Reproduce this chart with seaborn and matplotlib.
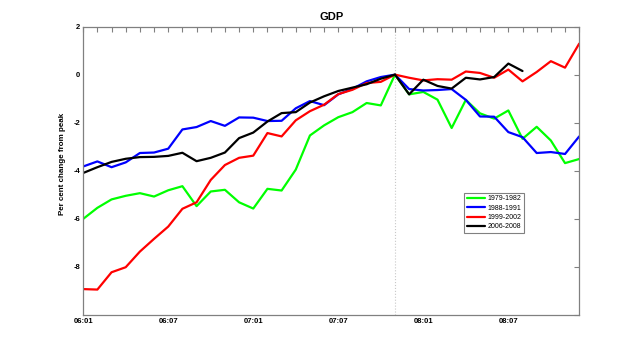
#!/usr/bin/env python3
# -*- coding: utf-8 -*-

import matplotlib as mpl
mpl.use('Agg')
import matplotlib.pyplot as plt
from matplotlib.ticker import MultipleLocator
import seaborn as sns
import pandas as pd

# months since 06:01, monthly GDP, per cent change from peak (peak at 07:11)
months = list(range(36))
tick_labels = ['06:01', '06:07', '07:01', '07:07', '08:01', '08:07']
periods = ['1979-1982', '1988-1991', '1999-2002', '2006-2008']

g7982 = [-6.0, -5.54, -5.19, -5.04, -4.93, -5.07, -4.81, -4.64, -5.47, -4.86,
         -4.79, -5.31, -5.57, -4.75, -4.82, -3.95, -2.53, -2.11, -1.77, -1.56,
         -1.18, -1.28, 0.0, -0.82, -0.72, -1.04, -2.22, -1.05, -1.61, -1.83,
         -1.49, -2.67, -2.17, -2.74, -3.68, -3.51]
g8891 = [-3.82, -3.61, -3.85, -3.65, -3.26, -3.24, -3.08, -2.28, -2.18, -1.93,
         -2.13, -1.78, -1.79, -1.93, -1.92, -1.40, -1.10, -1.27, -0.82, -0.59,
         -0.28, -0.10, 0.0, -0.60, -0.66, -0.64, -0.60, -1.05, -1.74, -1.75,
         -2.39, -2.60, -3.26, -3.22, -3.30, -2.57]
g9902 = [-8.92, -8.94, -8.22, -8.01, -7.36, -6.83, -6.32, -5.58, -5.31, -4.38,
         -3.76, -3.46, -3.37, -2.43, -2.57, -1.90, -1.52, -1.25, -0.81, -0.63,
         -0.35, -0.30, 0.0, -0.13, -0.24, -0.19, -0.21, 0.13, 0.07, -0.13,
         0.21, -0.28, 0.11, 0.56, 0.29, 1.29]
g0608 = [-4.09, -3.85, -3.63, -3.50, -3.43, -3.42, -3.38, -3.25, -3.60, -3.46,
         -3.24, -2.64, -2.41, -1.95, -1.60, -1.56, -1.16, -0.90, -0.68, -0.54,
         -0.40, -0.17, 0.0, -0.82, -0.21, -0.47, -0.58, -0.13, -0.20, -0.10,
         0.46, 0.15]

colors = ['#00ff00', '#0000ff', '#ff0000', '#000000']

if __name__ == '__main__':

	frames = []
	for name, vals in zip(periods, [g7982, g8891, g9902, g0608]):
		frames.append(pd.DataFrame({'month': months[:len(vals)], 'value': vals, 'period': name}))
	df = pd.concat(frames, ignore_index=True)

	sns.set_style('white')
	plt.rcParams['font.family'] = ['Liberation Sans', 'DejaVu Sans']
	plt.rcParams['text.color'] = 'black'
	plt.rcParams['axes.labelcolor'] = 'black'
	plt.rcParams['xtick.labelcolor'] = 'black'
	plt.rcParams['ytick.labelcolor'] = 'black'

	fig = plt.figure(figsize=(6.4, 3.54), dpi=100)
	ax = fig.add_axes([0.130, 0.110, 0.775, 0.815])

	sns.lineplot(data=df, x='month', y='value', hue='period', palette=colors,
		linewidth=1.6, ax=ax)
	ax.axvline(22, color='#c8c8c8', linestyle=':', linewidth=0.8, zorder=0)

	ax.set_xlim(0, 35)
	ax.set_ylim(-10, 2)
	ax.set_xticks([0, 6, 12, 18, 24, 30])
	ax.set_xticklabels(tick_labels)
	ax.xaxis.set_minor_locator(MultipleLocator(1))
	ax.set_yticks([-10, -8, -6, -4, -2, 0, 2])
	ax.set_yticklabels(['', '-8', '-6', '-4', '-2', '0', '2'])
	ax.tick_params(which='both', direction='in', top=True, right=True,
		length=3.5, width=0.8, color='#808080', labelsize=5.5, pad=2,
		labelcolor='black')
	for lab in ax.get_xticklabels() + ax.get_yticklabels():
		lab.set_fontweight('bold')
	for sp in ax.spines.values():
		sp.set_color('#808080')
		sp.set_linewidth(0.9)

	ax.set_xlabel('')
	ax.set_ylabel('Per cent change from peak', fontsize=5.8, fontweight='bold', color='black')
	ax.yaxis.set_label_coords(-0.034, 0.523)
	ax.set_title('GDP', fontsize=8, fontweight='bold', pad=5, color='black')

	leg = ax.legend(loc='upper left', bbox_to_anchor=(0.768, 0.424), borderaxespad=0,
		fontsize=5, fancybox=False, framealpha=1, edgecolor='#808080',
		handlelength=2.6, handletextpad=0.4, labelspacing=0.35, borderpad=0.35)
	leg.get_frame().set_linewidth(0.8)
	for t in leg.get_texts():
		t.set_color('black')

	fig.savefig('out.png', dpi=100, facecolor='white')
